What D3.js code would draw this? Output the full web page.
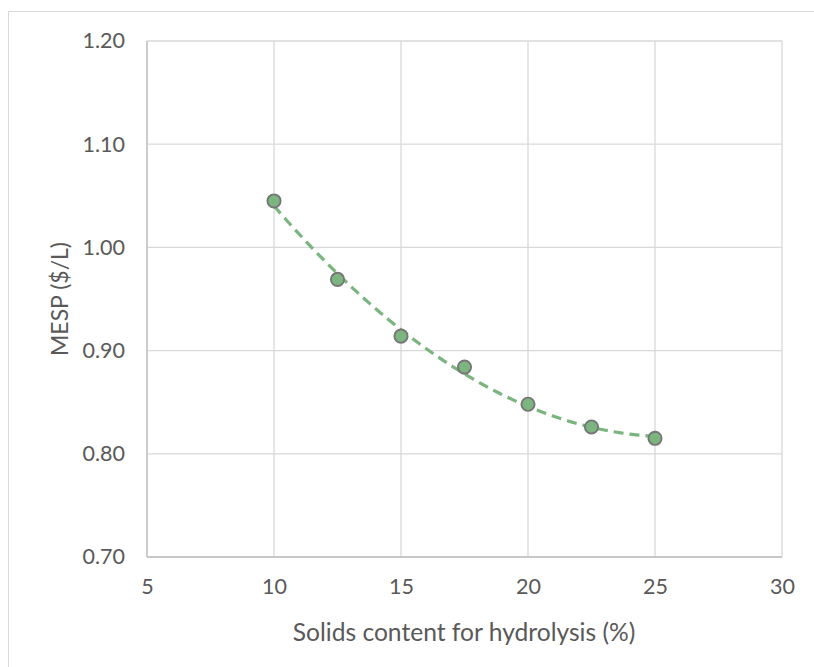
<!DOCTYPE html>
<html>
<head>
<meta charset="utf-8">
<script src="https://cdn.jsdelivr.net/npm/d3@7"></script>
<style>
  html, body { margin: 0; padding: 0; background: #fff; }
  svg { display: block; }
  text { font-family: Lato, "Liberation Sans", sans-serif; fill: #595959; }
</style>
</head>
<body>
<svg id="chart" width="814" height="667"></svg>
<script>
// Solids loading (%) and minimum ethanol selling price ($/L)
const solids = [10, 12.5, 15, 17.5, 20, 22.5, 25];
const mesp = [1.045, 0.969, 0.914, 0.884, 0.848, 0.826, 0.815];
const xTicks = [5, 10, 15, 20, 25, 30];
const yTicks = [0.70, 0.80, 0.90, 1.00, 1.10, 1.20];

const svg = d3.select("#chart");
const W = 814, H = 667;
const m = { left: 147, top: 41, right: 782, bottom: 557 };

// chart frame
svg.append("rect")
  .attr("x", 8.5).attr("y", 11.5)
  .attr("width", W + 20).attr("height", H + 20)
  .attr("fill", "none").attr("stroke", "#d9d9d9").attr("stroke-width", 1);

const x = d3.scaleLinear().domain([5, 30]).range([m.left, m.right]);
const y = d3.scaleLinear().domain([0.70, 1.20]).range([m.bottom, m.top]);

// gridlines
const grid = svg.append("g").attr("stroke", "#d9d9d9").attr("stroke-width", 1.3);
xTicks.forEach(t => grid.append("line")
  .attr("x1", x(t)).attr("x2", x(t)).attr("y1", m.top).attr("y2", m.bottom));
yTicks.forEach(t => grid.append("line")
  .attr("x1", m.left).attr("x2", m.right).attr("y1", y(t)).attr("y2", y(t)));

// axis lines
svg.append("line").attr("x1", m.left).attr("x2", m.left).attr("y1", m.top).attr("y2", m.bottom)
  .attr("stroke", "#bfbfbf").attr("stroke-width", 1.3);
svg.append("line").attr("x1", m.left).attr("x2", m.right).attr("y1", m.bottom).attr("y2", m.bottom)
  .attr("stroke", "#bfbfbf").attr("stroke-width", 1.3);

// tick labels via d3 axes
const xAxis = svg.append("g").attr("transform", `translate(0,${m.bottom})`)
  .call(d3.axisBottom(x).tickValues(xTicks).tickSize(0).tickPadding(22).tickFormat(d3.format("d")));
const yAxis = svg.append("g").attr("transform", `translate(${m.left},0)`)
  .call(d3.axisLeft(y).tickValues(yTicks).tickSize(0).tickPadding(22).tickFormat(d3.format(".2f")));
[xAxis, yAxis].forEach(a => {
  a.select(".domain").remove();
  a.selectAll("text").attr("font-size", 21.5).attr("fill", "#595959")
    .style("font-family", "Lato, 'Liberation Sans', sans-serif");
});

// axis titles
svg.append("text").attr("x", (m.left + m.right) / 2 - 0.5).attr("y", 641)
  .attr("text-anchor", "middle").attr("font-size", 24.6)
  .text("Solids content for hydrolysis (%)");
svg.append("text")
  .attr("transform", `translate(68,${(m.top + m.bottom) / 2}) rotate(-90)`)
  .attr("text-anchor", "middle").attr("font-size", 23)
  .text("MESP ($/L)");

// second-order polynomial trendline (least squares)
function polyfit2(xs, ys) {
  let S = [0, 0, 0, 0, 0], T = [0, 0, 0];
  xs.forEach((xi, i) => {
    for (let k = 0; k < 5; k++) S[k] += Math.pow(xi, k);
    for (let k = 0; k < 3; k++) T[k] += ys[i] * Math.pow(xi, k);
  });
  const A = [[S[0], S[1], S[2], T[0]], [S[1], S[2], S[3], T[1]], [S[2], S[3], S[4], T[2]]];
  for (let i = 0; i < 3; i++) {
    for (let j = i + 1; j < 3; j++) {
      const f = A[j][i] / A[i][i];
      for (let k = i; k < 4; k++) A[j][k] -= f * A[i][k];
    }
  }
  const c = [0, 0, 0];
  for (let i = 2; i >= 0; i--) {
    let s = A[i][3];
    for (let k = i + 1; k < 3; k++) s -= A[i][k] * c[k];
    c[i] = s / A[i][i];
  }
  return c;
}
const coef = polyfit2(solids, mesp);
const fit = d3.range(0, 101).map(i => {
  const xv = solids[0] + (solids[solids.length - 1] - solids[0]) * i / 100;
  return [xv, coef[0] + coef[1] * xv + coef[2] * xv * xv];
});
svg.append("path")
  .datum(fit)
  .attr("d", d3.line().x(d => x(d[0])).y(d => y(d[1])))
  .attr("fill", "none").attr("stroke", "#7ab47f").attr("stroke-width", 3.2)
  .attr("stroke-dasharray", "10,6");

// data markers
svg.append("g").selectAll("circle")
  .data(solids.map((s, i) => [s, mesp[i]]))
  .join("circle")
  .attr("cx", d => x(d[0])).attr("cy", d => y(d[1])).attr("r", 6.6)
  .attr("fill", "#7cb580").attr("stroke", "#767676").attr("stroke-width", 1.9);
</script>
</body>
</html>
